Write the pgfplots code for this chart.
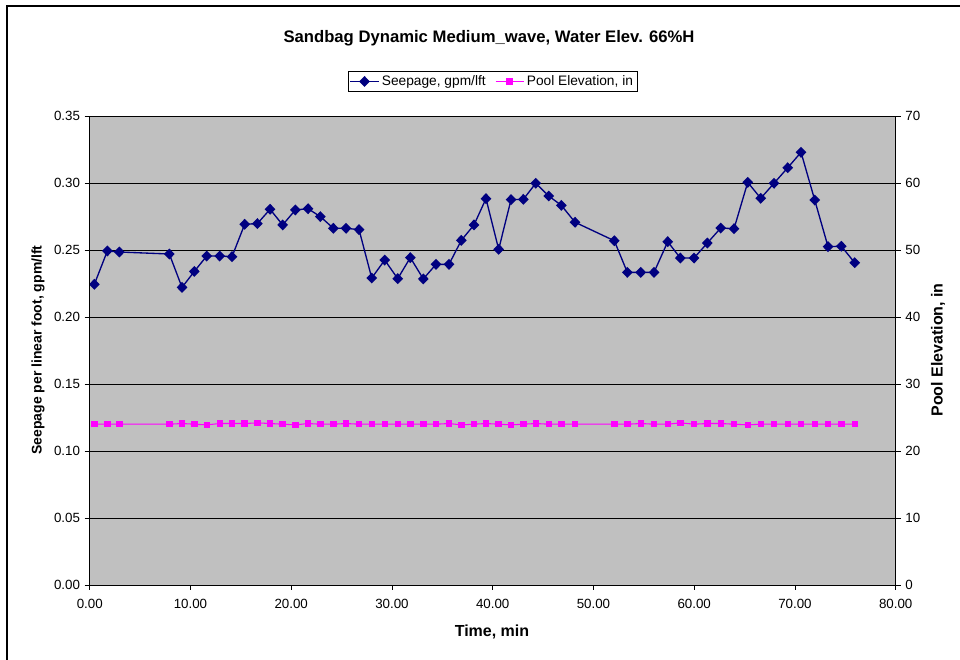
\documentclass[border=0pt]{standalone}
\usepackage{pgfplots}
\usepackage{pgfplotstable}
\pgfplotsset{compat=1.18}
\usepackage{fontspec}
\setmainfont{Liberation Sans}
\definecolor{navyc}{RGB}{0,0,128}
\definecolor{magc}{RGB}{255,0,255}
\definecolor{plotgray}{RGB}{192,192,192}

\pgfplotstableread{
t s p
0.46 0.2244 24.0
1.75 0.2493 24.0
2.94 0.2485 24.0
7.90 0.2470 24.0
9.16 0.2221 24.1
10.38 0.2340 24.0
11.61 0.2455 23.9
12.90 0.2455 24.1
14.12 0.2450 24.1
15.38 0.2692 24.1
16.64 0.2697 24.2
17.90 0.2804 24.1
19.15 0.2687 24.0
20.41 0.2799 23.9
21.67 0.2808 24.1
22.89 0.2749 24.0
24.18 0.2662 24.0
25.44 0.2662 24.1
26.73 0.2652 24.0
27.99 0.2291 24.0
29.28 0.2425 24.0
30.57 0.2286 24.0
31.82 0.2443 24.0
33.11 0.2284 24.0
34.37 0.2393 24.0
35.66 0.2393 24.1
36.88 0.2572 23.9
38.14 0.2687 24.0
39.33 0.2883 24.1
40.59 0.2505 24.0
41.82 0.2876 23.9
43.04 0.2878 24.0
44.27 0.2998 24.1
45.56 0.2903 24.0
46.81 0.2833 24.0
48.17 0.2707 24.0
52.07 0.2569 24.0
53.36 0.2333 24.0
54.69 0.2333 24.1
56.01 0.2333 24.0
57.37 0.2562 24.0
58.62 0.2440 24.2
59.98 0.2440 24.0
61.30 0.2552 24.1
62.63 0.2664 24.1
63.95 0.2659 24.0
65.31 0.3005 23.9
66.60 0.2886 24.0
67.92 0.2998 24.0
69.28 0.3114 24.0
70.60 0.3229 24.0
71.96 0.2873 24.0
73.28 0.2525 24.0
74.60 0.2528 24.0
75.93 0.2405 24.0
}\datatable

\pgfplotsset{
  myaxis/.style={
    at={(67.3pt,56.25pt)}, anchor=south west,
    scale only axis, width=604.5pt, height=351.75pt,
    xmin=0, xmax=80,
    tick align=outside,
    major tick length=3.75pt,
    tick style={black, line width=0.6pt},
    axis line style={black, line width=0.7pt},
    ticklabel style={font=\fontsize{10}{12}\selectfont},
    /pgf/number format/assume math mode=true,
    legend image code/.code={\draw[mark repeat=2,mark phase=2,##1] plot coordinates {(0cm,0cm)(0.37cm,0cm)(0.74cm,0cm)};},
  }
}

\begin{document}
\begin{tikzpicture}
\path[use as bounding box] (0,0) rectangle (720pt,495pt);
\fill[white] (0,0) rectangle (720pt,495pt);
\draw[line width=1.5pt] (5.25pt,-10pt) -- (5.25pt,490.5pt) -- (730pt,490.5pt);

\begin{axis}[myaxis,
  ymin=0, ymax=0.35,
  xtick={0,10,20,30,40,50,60,70,80},
  ytick={0,0.05,0.10,0.15,0.20,0.25,0.30,0.35},
  xtick pos=left, ytick pos=left,
  xticklabel style={yshift=-3pt, /pgf/number format/.cd, fixed, fixed zerofill, precision=2},
  yticklabel style={/pgf/number format/.cd, fixed, fixed zerofill, precision=2},
  axis background/.style={fill=plotgray},
  ymajorgrids, grid style={black, line width=0.6pt},
  legend style={at={(0.5,1.0736)}, anchor=center, legend columns=2, draw=black, fill=white,
    font=\fontsize{10.3}{12}\selectfont, inner sep=1pt,
    /tikz/every even column/.append style={column sep=5pt}},
]
\addplot[navyc, line width=1pt, mark=diamond*, mark size=3.4pt, mark options={solid, fill=navyc, xscale=1.3}] table[x=t, y=s] {\datatable};
\addlegendentry{Seepage, gpm/lft}
\addlegendimage{magc, line width=0.8pt, mark=square*, mark size=2pt, mark options={solid, fill=magc}}
\addlegendentry{Pool Elevation, in}
\end{axis}

\begin{axis}[myaxis,
  ymin=0, ymax=70,
  xtick=\empty,
  ytick={0,10,20,30,40,50,60,70},
  ytick pos=right, yticklabel pos=right,
]
\addplot[magc, line width=0.8pt, mark=square*, mark size=2pt, mark options={solid, fill=magc}] table[x=t, y=p] {\datatable};
\end{axis}

\node[font=\fontsize{12.5}{14}\bfseries\selectfont] at (366.75pt,466.5pt) {Sandbag Dynamic Medium\_wave, Water Elev. 66\%H};
\node[font=\fontsize{12}{14}\bfseries\selectfont] at (369pt,21pt) {Time, min};
\node[rotate=90, font=\fontsize{10.5}{12}\bfseries\selectfont] at (28.5pt,232.5pt) {Seepage per linear foot, gpm/lft};
\node[rotate=90, font=\fontsize{12}{14}\bfseries\selectfont] at (703.5pt,232.5pt) {Pool Elevation, in};
\end{tikzpicture}
\end{document}
